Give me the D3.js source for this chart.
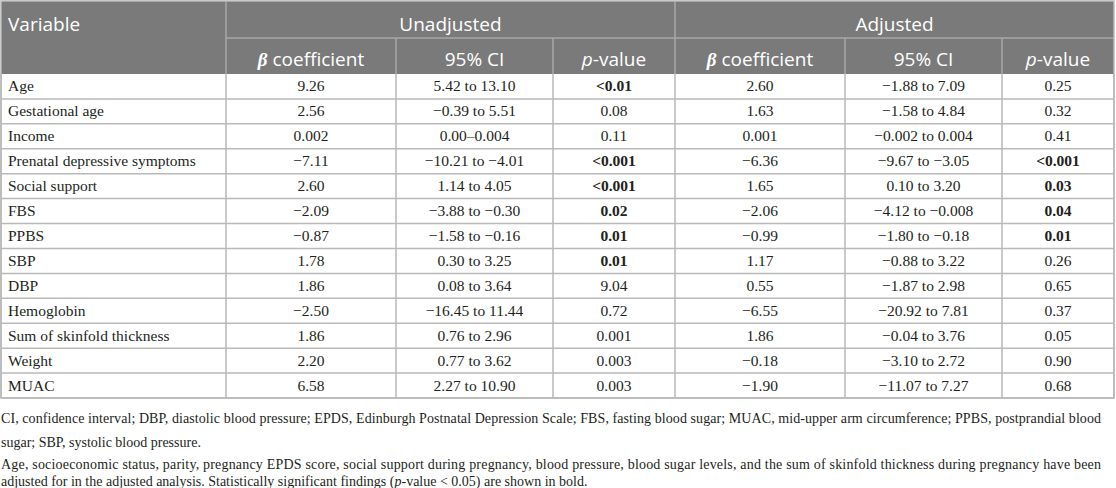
<!DOCTYPE html>
<html>
<head>
<meta charset="utf-8">
<script src="https://cdn.jsdelivr.net/npm/d3@7"></script>
<style>
  body { margin: 0; background: #fff; }
  svg { display: block; }
</style>
</head>
<body>
<div id="table"></div>
<script>
// Regression table: unadjusted vs adjusted estimates

const variables = ['Age', 'Gestational age', 'Income', 'Prenatal depressive symptoms', 'Social support',
  'FBS', 'PPBS', 'SBP', 'DBP', 'Hemoglobin', 'Sum of skinfold thickness', 'Weight', 'MUAC'];

const betaUnadj = ['9.26', '2.56', '0.002', '−7.11', '2.60', '−2.09', '−0.87', '1.78', '1.86', '−2.50', '1.86', '2.20', '6.58'];
const ciUnadj = ['5.42 to 13.10', '−0.39 to 5.51', '0.00–0.004', '−10.21 to −4.01', '1.14 to 4.05', '−3.88 to −0.30',
  '−1.58 to −0.16', '0.30 to 3.25', '0.08 to 3.64', '−16.45 to 11.44', '0.76 to 2.96', '0.77 to 3.62', '2.27 to 10.90'];
const pUnadj = ['<0.01', '0.08', '0.11', '<0.001', '<0.001', '0.02', '0.01', '0.01', '9.04', '0.72', '0.001', '0.003', '0.003'];

const betaAdj = ['2.60', '1.63', '0.001', '−6.36', '1.65', '−2.06', '−0.99', '1.17', '0.55', '−6.55', '1.86', '−0.18', '−1.90'];
const ciAdj = ['−1.88 to 7.09', '−1.58 to 4.84', '−0.002 to 0.004', '−9.67 to −3.05', '0.10 to 3.20', '−4.12 to −0.008',
  '−1.80 to −0.18', '−0.88 to 3.22', '−1.87 to 2.98', '−20.92 to 7.81', '−0.04 to 3.76', '−3.10 to 2.72', '−11.07 to 7.27'];
const pAdj = ['0.25', '0.32', '0.41', '<0.001', '0.03', '0.04', '0.01', '0.26', '0.65', '0.37', '0.05', '0.90', '0.68'];

// significant p-values (shown in bold)
const boldUnadj = ['Age', 'Prenatal depressive symptoms', 'Social support', 'FBS', 'PPBS', 'SBP'];
const boldAdj = ['Prenatal depressive symptoms', 'Social support', 'FBS', 'PPBS'];

const groups = ['Unadjusted', 'Adjusted'];

const notes = [
  'CI, confidence interval; DBP, diastolic blood pressure; EPDS, Edinburgh Postnatal Depression Scale; FBS, fasting blood sugar; MUAC, mid-upper arm circumference; PPBS, postprandial blood',
  'sugar; SBP, systolic blood pressure.',
  'Age, socioeconomic status, parity, pregnancy EPDS score, social support during pregnancy, blood pressure, blood sugar levels, and the sum of skinfold thickness during pregnancy have been'
];

const width = 1116;
const height = 488;

// column edges (layout)
const edges = [1, 226, 396, 553, 675, 845, 1002, 1114];
const headTop = 1, headMid = 38, headBot = 74, tableBot = 398;

const headFont = '"Open Sans", "Noto Sans", sans-serif';
const bodyFont = '"Liberation Serif", "Times New Roman", serif';
const gridColor = '#b9b9b9';
const headLine = '#a8a8a8';
const textColor = '#231f20';

const svg = d3.select('#table')
  .append('svg')
  .attr('width', width)
  .attr('height', height);

const y = d3.scaleBand().domain(variables).range([headBot, tableBot]);
const colMid = i => (edges[i] + edges[i + 1]) / 2;

// header background
svg.append('rect')
  .attr('x', edges[0]).attr('y', headTop)
  .attr('width', edges[7] - edges[0]).attr('height', headBot - headTop)
  .attr('fill', '#7a7a7a');

// header lines
const hl = svg.append('g').attr('stroke', headLine).attr('stroke-width', 1.5);
hl.append('line').attr('x1', edges[1]).attr('x2', edges[7]).attr('y1', headMid).attr('y2', headMid);
[1, 4].forEach(i => hl.append('line').attr('x1', edges[i]).attr('x2', edges[i]).attr('y1', headTop).attr('y2', headBot));
[2, 3, 5, 6].forEach(i => hl.append('line').attr('x1', edges[i]).attr('x2', edges[i]).attr('y1', headMid).attr('y2', headBot));

// header text
const ht = svg.append('g')
  .attr('font-family', headFont)
  .attr('font-size', 19)
  .attr('fill', '#fff');

ht.append('text').attr('x', 8).attr('y', 31).text('Variable');

ht.selectAll('.grp')
  .data(groups)
  .enter().append('text')
  .attr('class', 'grp')
  .attr('x', (d, i) => (edges[1 + i * 3] + edges[4 + i * 3]) / 2)
  .attr('y', 31)
  .attr('text-anchor', 'middle')
  .text(d => d);

[0, 1].forEach(g => {
  const base = 1 + g * 3;
  const t1 = ht.append('text').attr('x', colMid(base)).attr('y', 66).attr('text-anchor', 'middle');
  t1.append('tspan').attr('font-family', bodyFont).attr('font-weight', 'bold').attr('font-style', 'italic').text('β');
  t1.append('tspan').text(' coefficient');

  ht.append('text').attr('x', colMid(base + 1)).attr('y', 66).attr('text-anchor', 'middle').text('95% CI');

  const t3 = ht.append('text').attr('x', colMid(base + 2)).attr('y', 66).attr('text-anchor', 'middle');
  t3.append('tspan').attr('font-style', 'italic').text('p');
  t3.append('tspan').text('-value');
});

// body grid
const grid = svg.append('g').attr('stroke', gridColor).attr('stroke-width', 1.5);
grid.selectAll('.hrow')
  .data(variables)
  .enter().append('line')
  .attr('x1', edges[0]).attr('x2', edges[7])
  .attr('y1', d => y(d) + y.bandwidth())
  .attr('y2', d => y(d) + y.bandwidth());
grid.selectAll('.vcol')
  .data(edges)
  .enter().append('line')
  .attr('x1', d => d).attr('x2', d => d)
  .attr('y1', headBot).attr('y2', tableBot);
// outer border
svg.append('rect')
  .attr('x', edges[0]).attr('y', headTop)
  .attr('width', edges[7] - edges[0]).attr('height', tableBot - headTop)
  .attr('fill', 'none')
  .attr('stroke', gridColor)
  .attr('stroke-width', 1.5);

// body cells
const columns = [betaUnadj, ciUnadj, pUnadj, betaAdj, ciAdj, pAdj];
const boldSets = { 2: boldUnadj, 5: boldAdj };

const body = svg.append('g')
  .attr('font-family', bodyFont)
  .attr('font-size', 15.5)
  .attr('fill', textColor);

body.selectAll('.var')
  .data(variables)
  .enter().append('text')
  .attr('x', 8)
  .attr('y', d => y(d) + y.bandwidth() / 2 + 5)
  .text(d => d);

columns.forEach((col, ci) => {
  body.selectAll('.c' + ci)
    .data(col)
    .enter().append('text')
    .attr('class', 'c' + ci)
    .attr('x', colMid(ci + 1))
    .attr('y', (d, i) => y(variables[i]) + y.bandwidth() / 2 + 5)
    .attr('text-anchor', 'middle')
    .attr('font-weight', (d, i) => boldSets[ci] && boldSets[ci].includes(variables[i]) ? 'bold' : null)
    .text(d => d);
});

// footnotes
const foot = svg.append('g')
  .attr('font-family', bodyFont)
  .attr('font-size', 14)
  .attr('fill', textColor);

const noteY = [423, 447, 469];
notes.forEach((n, i) => {
  const t = foot.append('text').attr('x', 1).attr('y', noteY[i]).text(n);
  if (i !== 1) t.attr('textLength', 1100).attr('lengthAdjust', 'spacing');
});

const last = foot.append('text').attr('x', 1).attr('y', 486);
last.append('tspan').text('adjusted for in the adjusted analysis. Statistically significant findings (');
last.append('tspan').attr('font-style', 'italic').text('p');
last.append('tspan').text('-value < 0.05) are shown in bold.');
</script>
</body>
</html>
